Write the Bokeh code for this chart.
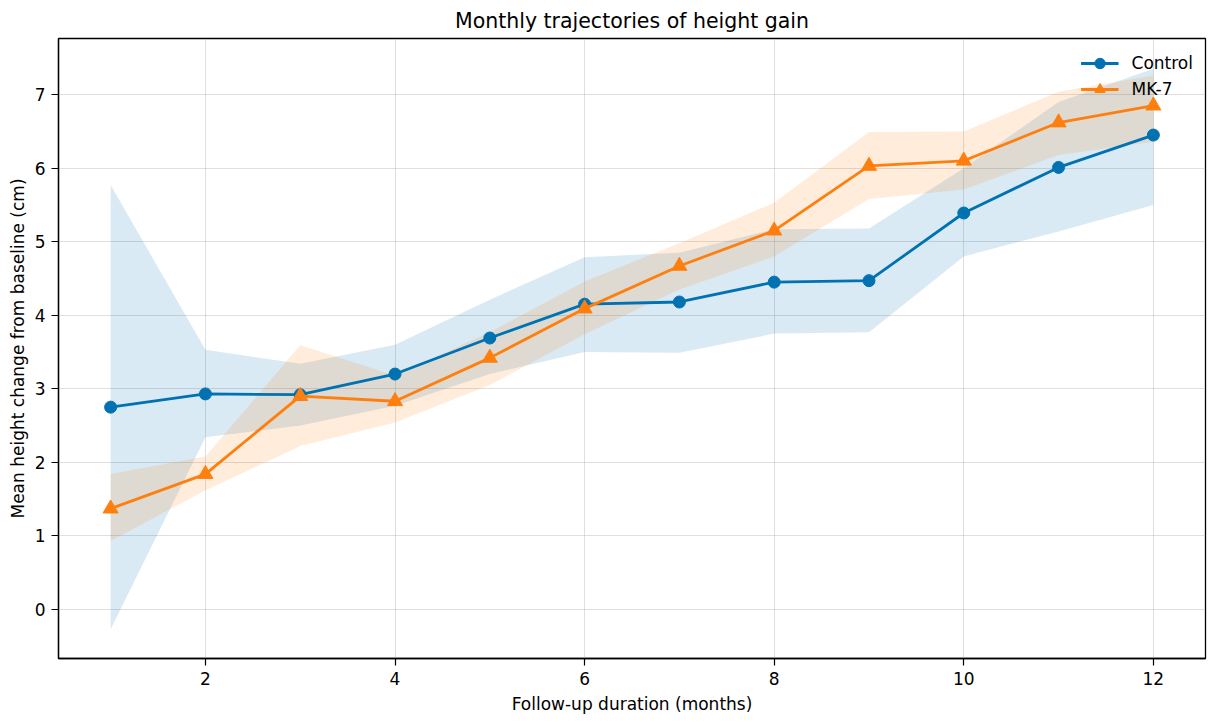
from bokeh.plotting import figure
from bokeh.models import Range1d, FixedTicker, Legend, LegendItem
from bokeh.embed import file_html
from bokeh.resources import INLINE

months = [1, 2, 3, 4, 5, 6, 7, 8, 9, 10, 11, 12]
control_mean = [2.75, 2.93, 2.92, 3.20, 3.69, 4.15, 4.18, 4.45, 4.47, 5.39, 6.01, 6.45]
control_lower = [-0.27, 2.34, 2.50, 2.77, 3.20, 3.50, 3.49, 3.75, 3.77, 4.80, 5.14, 5.50]
control_upper = [5.77, 3.53, 3.34, 3.60, 4.21, 4.79, 4.85, 5.17, 5.18, 6.00, 6.90, 7.35]
mk7_mean = [1.37, 1.84, 2.90, 2.83, 3.42, 4.09, 4.67, 5.15, 6.03, 6.10, 6.62, 6.85]
mk7_lower = [0.93, 1.62, 2.22, 2.54, 3.05, 3.74, 4.35, 4.80, 5.58, 5.71, 6.18, 6.36]
mk7_upper = [1.84, 2.08, 3.59, 3.18, 3.77, 4.46, 4.98, 5.53, 6.49, 6.50, 7.04, 7.26]
x_ticks = [2, 4, 6, 8, 10, 12]
y_ticks = [0, 1, 2, 3, 4, 5, 6, 7]

BLUE = "#0072B2"
ORANGE = "#FF7F0E"
FONT = "DejaVu Sans"

p = figure(width=1208, height=720, output_backend="svg", toolbar_location=None,
           x_range=Range1d(0.45, 12.55), y_range=Range1d(-0.668, 7.763),
           title="Monthly trajectories of height gain")
p.min_border_left = 58
p.min_border_right = 3
p.min_border_top = 37
p.min_border_bottom = 62

p.title.align = "center"
p.title.text_font = FONT
p.title.text_font_size = "20.5px"
p.title.text_font_style = "normal"
p.title.text_color = "#000000"
p.title.offset = 0
p.title.standoff = 12

p.outline_line_color = "#000000"
p.outline_line_width = 1.3
p.outline_line_alpha = 1.0

for ax in (p.xaxis[0], p.yaxis[0]):
    ax.axis_line_color = "#000000"
    ax.axis_line_width = 1.3
    ax.major_tick_line_color = "#000000"
    ax.major_tick_line_width = 1.2
    ax.major_tick_out = 7
    ax.major_tick_in = 0
    ax.minor_tick_line_color = None
    ax.major_label_text_font = FONT
    ax.major_label_text_font_size = "17px"
    ax.major_label_text_color = "#000000"
    ax.axis_label_text_font = FONT
    ax.axis_label_text_font_size = "17px"
    ax.axis_label_text_font_style = "normal"
    ax.axis_label_text_color = "#000000"

p.xaxis[0].ticker = FixedTicker(ticks=x_ticks)
p.yaxis[0].ticker = FixedTicker(ticks=y_ticks)
p.xaxis[0].axis_label = "Follow-up duration (months)"
p.yaxis[0].axis_label = "Mean height change from baseline (cm)"
p.xaxis[0].major_label_standoff = 6
p.yaxis[0].major_label_standoff = 6
p.xaxis[0].axis_label_standoff = 6
p.yaxis[0].axis_label_standoff = 4

p.xgrid.grid_line_color = "#b0b0b0"
p.ygrid.grid_line_color = "#b0b0b0"
p.xgrid.grid_line_alpha = 0.4
p.ygrid.grid_line_alpha = 0.4
p.xgrid.grid_line_width = 1
p.ygrid.grid_line_width = 1

p.varea(x=months, y1=control_lower, y2=control_upper, fill_color=BLUE, fill_alpha=0.15)
p.varea(x=months, y1=mk7_lower, y2=mk7_upper, fill_color=ORANGE, fill_alpha=0.15)

c_line = p.line(months, control_mean, line_color=BLUE, line_width=2.8)
c_pts = p.scatter(months, control_mean, marker="circle", size=12, fill_color=BLUE, line_color=BLUE)
m_line = p.line(months, mk7_mean, line_color=ORANGE, line_width=2.8)
m_pts = p.scatter(months, mk7_mean, marker="triangle", size=15, fill_color=ORANGE, line_color=ORANGE)

legend = Legend(items=[LegendItem(label="Control", renderers=[c_line, c_pts]),
                       LegendItem(label="MK-7", renderers=[m_line, m_pts])],
                location="top_right")
legend.border_line_color = None
legend.background_fill_alpha = 0.0
legend.label_text_font = FONT
legend.label_text_font_size = "17px"
legend.label_text_color = "#000000"
legend.glyph_width = 38
legend.glyph_height = 26
legend.label_height = 20
legend.label_standoff = 13
legend.spacing = -1
legend.padding = 9
legend.margin = 12
p.add_layout(legend)

open("out.html", "w").write(file_html(p, INLINE))
